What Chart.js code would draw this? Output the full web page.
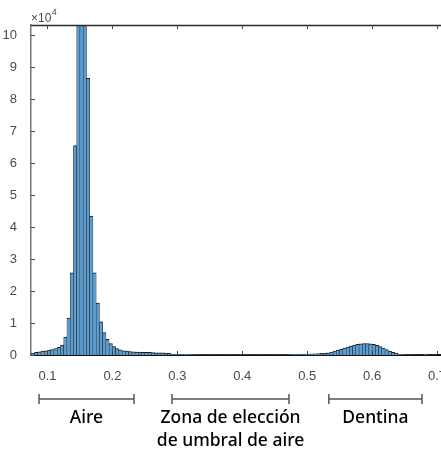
<!DOCTYPE html>
<html>
<head>
<meta charset="utf-8">
<script src="https://cdn.jsdelivr.net/npm/chart.js@4"></script>
<style>
  html, body { margin: 0; padding: 0; overflow: hidden; background: #fff; }
  #wrap { width: 441px; height: 454px; overflow: hidden; }
  canvas { display: block; }
</style>
</head>
<body>
<div id="wrap"><canvas id="histChart" width="470" height="454"></canvas></div>
<script>
// histogram bins: left edge of first bin and bin width
const binStart = 0.075;
const binWidth = 0.005;

// counts per bin (0.075 .. 0.700)
const counts = [
  500, 800, 1000, 1200, 1300, 1500, 1700, 2000, 2400, 3100,          // 0.075 - 0.120
  5600, 11500, 25700, 65400, 118000, 125000, 112000, 86400, 43400, 25700, // 0.125 - 0.170
  16200, 10400, 7000, 4900, 3600, 2600, 2000, 1600, 1300, 1200,      // 0.175 - 0.220
  1100, 1000, 900, 900, 850, 800, 800, 750, 700, 700,                // 0.225 - 0.270
  650, 600, 550, 300, 250,                                          // 0.275 - 0.295
  220, 200, 200, 190, 180, 180, 170, 170, 160, 160,                  // 0.300 - 0.345
  160, 150, 150, 150, 150, 140, 140, 140, 140, 140,                  // 0.350 - 0.395
  140, 140, 140, 140, 140, 140, 150, 150, 150, 150,                  // 0.400 - 0.445
  150, 160, 160, 170, 180, 190, 200, 220, 250, 280,                  // 0.450 - 0.495
  320, 360,                                                         // 0.500 - 0.505
  400, 450, 500, 550, 650, 900, 1200, 1500, 1800, 2200,              // 0.510 - 0.555
  2500, 2800, 3100, 3300, 3500, 3600, 3600, 3500, 3300, 3000,        // 0.560 - 0.605
  2600, 2200, 1700, 1200, 800, 500, 300, 200, 150,                   // 0.610 - 0.650
  120, 100, 90, 80, 60, 300, 50, 40, 30                              // 0.655 - 0.695
];

const xTicks = [0.1, 0.2, 0.3, 0.4, 0.5, 0.6, 0.7];
const yTicks = [0, 10000, 20000, 30000, 40000, 50000, 60000, 70000, 80000, 90000, 100000];

// range labels under the axis
const rangeLabels = [['Aire'], ['Zona de elección', 'de umbral de aire'], ['Dentina']];
const rangeFrom = [0.087, 0.2918, 0.5334];
const rangeTo = [0.2332, 0.4720, 0.6768];

const axisColor = '#2a2a2a';

// inward tick marks, top frame line, exponent label and range brackets
const decorations = {
  id: 'decorations',
  afterDraw(chart) {
    const ctx = chart.ctx;
    const area = chart.chartArea;
    const xs = chart.scales.x;
    const ys = chart.scales.y;
    ctx.save();

    // top frame
    ctx.strokeStyle = axisColor;
    ctx.lineWidth = 1.3;
    ctx.beginPath();
    ctx.moveTo(area.left, area.top + 0.5);
    ctx.lineTo(area.right, area.top + 0.5);
    ctx.stroke();

    // tick marks
    ctx.lineWidth = 1;
    ctx.strokeStyle = '#444';
    ctx.beginPath();
    xTicks.forEach(v => {
      const px = Math.round(xs.getPixelForValue(v)) + 0.5;
      ctx.moveTo(px, area.bottom);
      ctx.lineTo(px, area.bottom - 4);
      ctx.moveTo(px, area.top);
      ctx.lineTo(px, area.top + 4);
    });
    yTicks.forEach(v => {
      const py = Math.round(ys.getPixelForValue(v)) + 0.5;
      ctx.moveTo(area.left, py);
      ctx.lineTo(area.left + 4, py);
    });
    ctx.stroke();

    // exponent label
    ctx.fillStyle = '#4a4a4a';
    ctx.textBaseline = 'alphabetic';
    ctx.textAlign = 'left';
    ctx.font = '12px "Liberation Sans"';
    ctx.fillText('\u00d710', area.left, area.top - 3);
    const w = ctx.measureText('\u00d710').width;
    ctx.font = '9px "Liberation Sans"';
    ctx.fillText('4', area.left + w + 0.5, area.top - 10);

    // range brackets
    const by = area.bottom + 44;
    ctx.strokeStyle = '#555';
    ctx.lineWidth = 1.5;
    rangeLabels.forEach((lines, i) => {
      const x0 = xs.getPixelForValue(rangeFrom[i]);
      const x1 = xs.getPixelForValue(rangeTo[i]);
      ctx.beginPath();
      ctx.moveTo(x0, by);
      ctx.lineTo(x1, by);
      ctx.moveTo(x0, by - 5);
      ctx.lineTo(x0, by + 5);
      ctx.moveTo(x1, by - 5);
      ctx.lineTo(x1, by + 5);
      ctx.stroke();

      ctx.fillStyle = '#000';
      ctx.font = '500 17.5px "Noto Sans"';
      ctx.textAlign = 'center';
      ctx.textBaseline = 'middle';
      lines.forEach((t, j) => {
        ctx.fillText(t, (x0 + x1) / 2, by + 19 + j * 23);
      });
    });

    ctx.restore();
  }
};

const ctxHist = document.getElementById('histChart').getContext('2d');
const histChart = new Chart(ctxHist, {
  type: 'bar',
  data: {
    datasets: [{
      data: counts.map((c, i) => ({ x: binStart + (i + 0.5) * binWidth, y: c })),
      backgroundColor: 'rgb(92, 156, 206)',
      borderColor: '#1a1a1a',
      borderWidth: { top: 1, left: 0.5, right: 0.5, bottom: 0 },
      borderSkipped: 'start',
      barPercentage: 1,
      categoryPercentage: 1
    }]
  },
  options: {
    responsive: false,
    animation: false,
    layout: { padding: { top: 25, left: 0, right: 0, bottom: 0 } },
    plugins: {
      legend: { display: false },
      tooltip: { enabled: false }
    },
    scales: {
      x: {
        type: 'linear',
        min: 0.0746,
        max: 0.7508,
        offset: false,
        grid: { display: false, offset: false },
        border: { display: true, color: '#111', width: 2 },
        afterBuildTicks: s => { s.ticks = xTicks.map(v => ({ value: v })); },
        afterFit: s => { s.height = 99; },
        ticks: {
          padding: 6,
          maxRotation: 0,
          autoSkip: false,
          color: '#4a4a4a',
          font: { family: '"Liberation Sans", Arial, sans-serif', size: 13 },
          callback: v => v.toFixed(1)
        }
      },
      y: {
        min: 0,
        max: 103100,
        grid: { display: false },
        border: { display: true, color: '#777', width: 1.5 },
        afterBuildTicks: s => { s.ticks = yTicks.map(v => ({ value: v })); },
        afterFit: s => { s.width = 31; },
        ticks: {
          padding: 6,
          color: '#4a4a4a',
          font: { family: '"Liberation Sans", Arial, sans-serif', size: 13 },
          callback: v => String(v / 10000)
        }
      }
    }
  },
  plugins: [decorations]
});
</script>
</body>
</html>
